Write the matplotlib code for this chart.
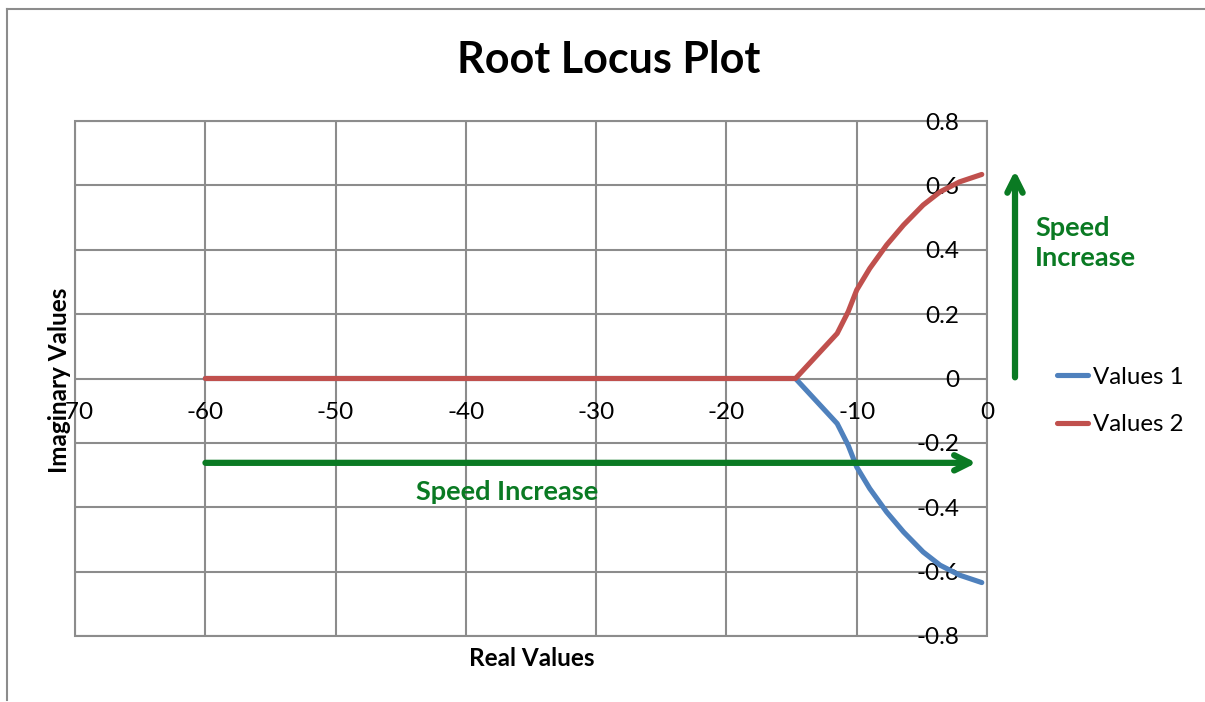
import matplotlib
matplotlib.use("Agg")
import matplotlib.pyplot as plt
from matplotlib.lines import Line2D
from matplotlib.patches import Rectangle

plt.rcParams['font.family'] = ['Lato', 'DejaVu Sans']

# Data
real_vals = [-60, -14.7, -11.5, -10.65, -10.0, -9.0, -7.7, -6.4, -4.9, -3.6, -2.1, -0.4]
imag_vals_2 = [0, 0, 0.140, 0.208, 0.275, 0.342, 0.415, 0.477, 0.539, 0.580, 0.611, 0.634]
imag_vals_1 = [0, 0, -0.140, -0.208, -0.275, -0.342, -0.415, -0.477, -0.539, -0.580, -0.611, -0.634]
series_names = ["Values 1", "Values 2"]
x_ticks = [-70, -60, -50, -40, -30, -20, -10, 0]
y_ticks = [-0.8, -0.6, -0.4, -0.2, 0, 0.2, 0.4, 0.6, 0.8]
y_tick_labels = ["-0.8", "-0.6", "-0.4", "-0.2", "0", "0.2", "0.4", "0.6", "0.8"]

W, H = 1205, 702
fig = plt.figure(figsize=(W / 100, H / 100), dpi=100)
ax = fig.add_axes([75 / W, (H - 636) / H, (987 - 75) / W, (636 - 121) / H])

grid_c = '#8c8c8c'
ax.set_xlim(-70, 0)
ax.set_ylim(-0.8, 0.8)
ax.set_xticks(x_ticks)
ax.set_xticklabels([str(v) for v in x_ticks])
ax.set_yticks(y_ticks)
ax.set_yticklabels(y_tick_labels)
ax.grid(True, color=grid_c, lw=1.5)
ax.set_axisbelow(True)
for s in ax.spines.values():
    s.set_visible(False)
ax.spines['bottom'].set_position(('data', 0))
ax.spines['left'].set_position(('data', 0))
ax.tick_params(axis='both', length=0, labelsize=17.5, colors='black')
ax.tick_params(axis='x', pad=17)
ax.tick_params(axis='y', pad=20)
ax.add_patch(Rectangle((0, 0), 1, 1, transform=ax.transAxes, fill=False,
                       ec=grid_c, lw=1.5, zorder=0.5, clip_on=False))

l1, = ax.plot(real_vals, imag_vals_1, color='#4F81BD', lw=3.7, solid_capstyle='round',
              solid_joinstyle='round', zorder=3)
l2, = ax.plot(real_vals, imag_vals_2, color='#C0504D', lw=3.7, solid_capstyle='round',
              solid_joinstyle='round', zorder=3)

green = '#0A7A23'
ax.annotate('', xy=(-0.6, -0.262), xytext=(-60.2, -0.262),
            arrowprops=dict(arrowstyle='->,head_length=1.1,head_width=0.55', color=green, lw=4.5),
            annotation_clip=False, zorder=4)
ax.text(-36.8, -0.354, 'Speed Increase', color=green, fontsize=19.5, fontweight='bold',
        ha='center', va='center')
ax.annotate('', xy=(2.15, 0.655), xytext=(2.15, -0.005), xycoords='data',
            arrowprops=dict(arrowstyle='->,head_length=1.1,head_width=0.55', color=green, lw=4.5),
            annotation_clip=False)
fig.text(1035 / W, 1 - 243 / H, 'Speed\nIncrease', color=green, fontsize=19.5, fontweight='bold',
         ha='left', va='center', linespacing=1.25)

fig.text(609 / W, 1 - 60 / H, 'Root Locus Plot', fontsize=31, fontweight='bold',
         ha='center', va='center')
fig.text(532 / W, 1 - 659 / H, 'Real Values', fontsize=17.5, fontweight='bold', ha='center', va='center')
fig.text(60 / W, 1 - 380 / H, 'Imaginary Values', fontsize=17.5, fontweight='bold', ha='center',
         va='center', rotation=90)

fig.legend([l1, l2], series_names, loc='center left', bbox_to_anchor=(1057 / W, 1 - 401 / H),
           frameon=False, fontsize=17.3, handlelength=1.3, labelspacing=1.12, handletextpad=0.2,
           borderaxespad=0, borderpad=0)

# outer chart frame (cut on right/bottom)
fig.add_artist(Line2D([7 / W, 7 / W], [1 - 9 / H, 1 - 700 / H], color='#8c8c8c', lw=1.5))
fig.add_artist(Line2D([7 / W, 1], [1 - 9 / H, 1 - 9 / H], color='#8c8c8c', lw=1.5))

fig.savefig('out.png', dpi=100, facecolor='white')
